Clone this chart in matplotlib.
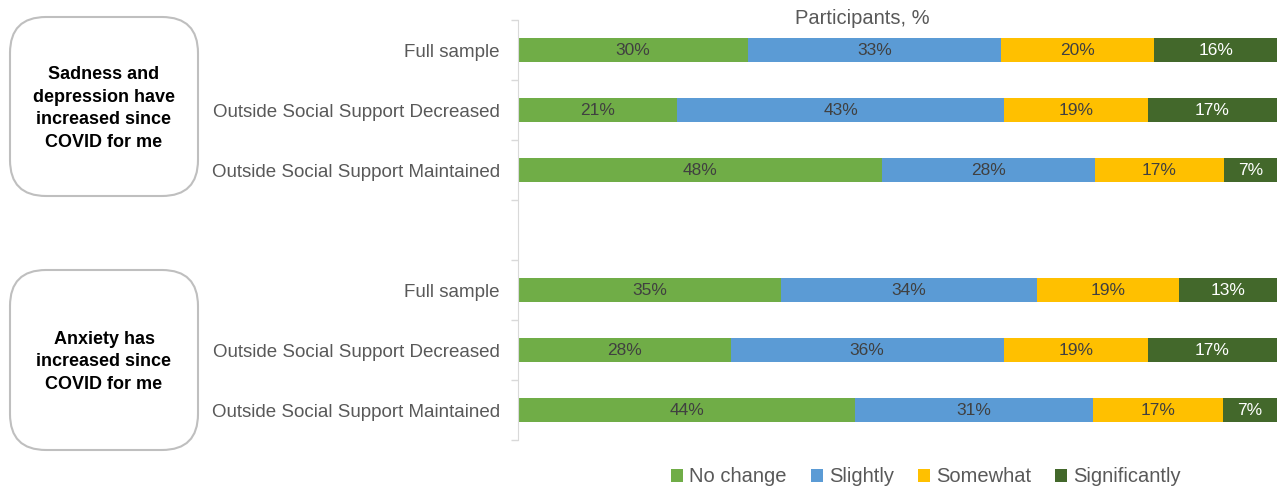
import numpy as np
import matplotlib
matplotlib.use("Agg")
from matplotlib import pyplot as plt
from matplotlib.patches import FancyBboxPatch

plt.rcParams['font.family'] = ['Liberation Sans', 'DejaVu Sans']

# data
rows = ["Full sample", "Outside Social Support Decreased", "Outside Social Support Maintained",
        "", "Full sample", "Outside Social Support Decreased", "Outside Social Support Maintained"]
series = ["No change", "Slightly", "Somewhat", "Significantly"]
no_change = [30, 21, 48, 0, 35, 28, 44]
slightly = [33, 43, 28, 0, 34, 36, 31]
somewhat = [20, 19, 17, 0, 19, 19, 17]
significantly = [16, 17, 7, 0, 13, 17, 7]
groups = ["Sadness and\ndepression have\nincreased since\nCOVID for me",
          "Anxiety has\nincreased since\nCOVID for me"]

colors = ['#70AD47', '#5B9BD5', '#FFC000', '#43682B']
label_colors = ['#404040', '#404040', '#404040', 'white']
grey = '#595959'

vals = np.array([no_change, slightly, somewhat, significantly], dtype=float)
tot = vals.sum(axis=0)
tot[tot == 0] = 1
shares = vals / tot * 100

W, H = 1277, 487
fig = plt.figure(figsize=(W / 100, H / 100), dpi=100)

# overlay in pixel units for the group boxes
bg = fig.add_axes([0, 0, 1, 1], zorder=0)
bg.set_xlim(0, W)
bg.set_ylim(H, 0)
bg.axis('off')

ax = fig.add_axes([518 / W, 1 - 440 / H, 1 - 518 / W, 420 / H], zorder=1)
ax.patch.set_alpha(0)

y = np.arange(len(rows))
left = np.zeros(len(rows))
for k in range(4):
    ax.barh(y, shares[k], left=left, height=0.4, color=colors[k], label=series[k])
    for i in range(len(rows)):
        if vals[k][i] > 0:
            ax.text(left[i] + shares[k][i] / 2, y[i], f"{int(vals[k][i])}%",
                    ha='center', va='center', fontsize=12.5, color=label_colors[k])
    left += shares[k]

ax.set_xlim(0, 100)
ax.set_ylim(len(rows) - 0.5, -0.5)
ax.set_yticks(y)
ax.set_yticklabels(rows, fontsize=13.5, color=grey)
ax.tick_params(axis='y', which='major', length=0, pad=13)
ax.set_yticks(np.arange(-0.5, len(rows), 1), minor=True)
ax.tick_params(axis='y', which='minor', length=5, color='#D9D9D9', width=1)
ax.set_xticks([])
for s in ['top', 'right', 'bottom']:
    ax.spines[s].set_visible(False)
ax.spines['left'].set_color('#D9D9D9')

fig.text(862 / W, 1 - 19 / H, "Participants, %", ha='center', va='center', fontsize=14.5, color=grey)

boxes = [(10, 17, 198, 196), (10, 270, 198, 450)]
for (x0, y0, x1, y1), g in zip(boxes, groups):
    bg.add_patch(FancyBboxPatch((x0, y0), x1 - x0, y1 - y0,
                                boxstyle="round,pad=0,rounding_size=36",
                                facecolor='white', edgecolor='#BFBFBF', linewidth=1.5))
    bg.text((x0 + x1) / 2, (y0 + y1) / 2 + 2, g, ha='center', va='center',
            fontsize=13, fontweight='bold', color='black', linespacing=1.45)

fig.legend(*ax.get_legend_handles_labels(), loc='center', bbox_to_anchor=(926 / W, 1 - 477 / H),
           ncol=4, frameon=False, fontsize=14.5, handlelength=0.6, handleheight=0.6,
           handletextpad=0.3, columnspacing=1.2, labelcolor=grey)

fig.savefig("out.png", dpi=100)
